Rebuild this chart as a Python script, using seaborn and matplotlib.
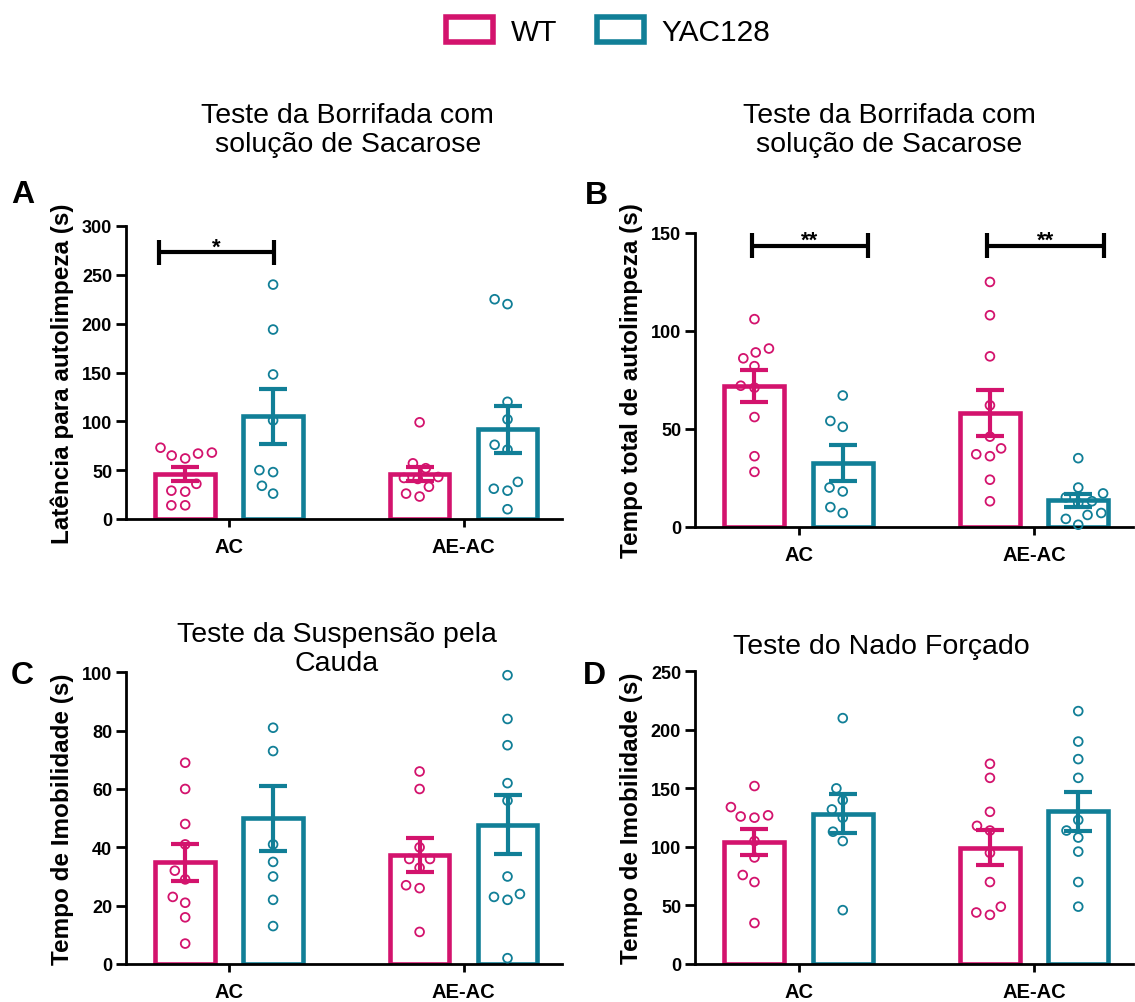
import numpy as np
import pandas as pd
import matplotlib
matplotlib.use("Agg")
import matplotlib.pyplot as plt
import seaborn as sns
from matplotlib.patches import Patch
from matplotlib.path import Path
from matplotlib.collections import PathCollection

sns.set_style("ticks")
plt.rcParams["font.family"] = ["Liberation Sans", "DejaVu Sans"]
for k in ("text.color", "axes.labelcolor", "xtick.color", "ytick.color", "axes.edgecolor"):
    plt.rcParams[k] = "black"

# ---------------- data ----------------
groups = ["AC", "AE-AC"]
genotypes = ["WT", "YAC128"]
colors = {"WT": "#D3136D", "YAC128": "#117F97"}

# Panel A - Latência para autolimpeza (s)
a_wt_ac = [73, 67, 62, 65, 68, 36, 29, 28, 14, 14]
a_yac_ac = [240, 194, 148, 101, 50, 48, 34, 26]
a_wt_aeac = [99, 57, 52, 43, 41, 42, 33, 26, 23]
a_yac_aeac = [225, 220, 120, 102, 76, 71, 38, 31, 29, 10]
a_wt_mean = [46, 46]
a_wt_sem = [7, 7.5]
a_yac_mean = [105, 92]
a_yac_sem = [28, 24]

# Panel B - Tempo total de autolimpeza (s)
b_wt_ac = [106, 91, 89, 86, 82, 72, 71, 56, 36, 28]
b_yac_ac = [67, 54, 51, 20, 18, 10, 7]
b_wt_aeac = [125, 108, 87, 62, 46, 40, 36, 37, 24, 13]
b_yac_aeac = [35, 20, 17, 15, 13, 12, 7, 6, 4, 1]
b_wt_mean = [71.8, 58]
b_wt_sem = [8, 11.8]
b_yac_mean = [32.5, 13.5]
b_yac_sem = [9, 3.4]

# Panel C - Tempo de Imobilidade (s), suspensão pela cauda
c_wt_ac = [69, 60, 48, 41, 32, 29, 23, 21, 16, 7]
c_yac_ac = [81, 73, 41, 35, 30, 22, 13]
c_wt_aeac = [66, 60, 40, 36, 36, 33, 27, 26, 11]
c_yac_aeac = [99, 84, 75, 62, 56, 30, 23, 22, 24, 2]
c_wt_mean = [34.9, 37.4]
c_wt_sem = [6.3, 5.7]
c_yac_mean = [49.9, 47.8]
c_yac_sem = [11, 10]

# Panel D - Tempo de Imobilidade (s), nado forçado
d_wt_ac = [152, 134, 127, 126, 125, 105, 91, 76, 70, 35]
d_yac_ac = [210, 150, 140, 132, 125, 113, 105, 46]
d_wt_aeac = [171, 159, 130, 118, 114, 95, 70, 49, 42, 44]
d_yac_aeac = [216, 190, 175, 159, 123, 114, 108, 96, 70, 49]
d_wt_mean = [104.5, 99.5]
d_wt_sem = [11, 15]
d_yac_mean = [128.5, 130.3]
d_yac_sem = [16.5, 17]

titles = ["Teste da Borrifada com\nsolução de Sacarose",
          "Teste da Borrifada com\nsolução de Sacarose",
          "Teste da Suspensão pela\nCauda",
          "Teste do Nado Forçado"]
ylabels = ["Latência para autolimpeza (s)",
           "Tempo total de autolimpeza (s)",
           "Tempo de Imobilidade (s)",
           "Tempo de Imobilidade (s)"]
letters = ["A", "B", "C", "D"]
yticks_list = [[0, 50, 100, 150, 200, 250, 300],
               [0, 50, 100, 150],
               [0, 20, 40, 60, 80, 100],
               [0, 50, 100, 150, 200, 250]]

# open-circle marker drawn smaller than its box, so the swarm keeps
# GraphPad-like spacing between neighbouring points
_circ = Path.unit_circle()
ring_marker = Path.make_compound_path(
    Path([[1.0, 1.0]], [Path.MOVETO]),
    Path([[-1.0, -1.0]], [Path.MOVETO]),
    Path(_circ.vertices * 0.77, _circ.codes),
)

# ---------------- figure ----------------
W, H = 1135, 1003
fig = plt.figure(figsize=(W / 100, H / 100), dpi=100)


def px_axes(left, right, top, bottom):
    return fig.add_axes([left / W, 1 - bottom / H, (right - left) / W, (bottom - top) / H])


axA = px_axes(126, 562, 227, 520)
axB = px_axes(695, 1133, 234, 527.7)
axC = px_axes(126, 562, 673.3, 965)
axD = px_axes(695, 1133, 672.3, 965)


def draw_panel(ax, wt_pts, yac_pts, wt_mean, wt_sem, yac_mean, yac_sem,
               yticks, ylabel):
    gpos = {g: i for i, g in enumerate(groups)}
    bar_df = pd.DataFrame({
        "gx": [gpos[g] for g in groups] * 2,
        "genotype": ["WT"] * 2 + ["YAC128"] * 2,
        "mean": wt_mean + yac_mean,
        "sem": wt_sem + yac_sem,
    })

    sns.barplot(data=bar_df, x="gx", y="mean", hue="genotype", native_scale=True,
                hue_order=genotypes, palette=colors,
                fill=False, width=0.75, gap=0.32, linewidth=3.3,
                errorbar=None, legend=False, ax=ax, zorder=2)

    centers = {}
    for cont, gen in zip(ax.containers, genotypes):
        sub = bar_df[bar_df.genotype == gen].sort_values("gx")
        xs = [b.get_x() + b.get_width() / 2 for b in cont]
        for g, x in zip(groups, xs):
            centers[(g, gen)] = x
        ax.errorbar(xs, sub["mean"].values, yerr=sub["sem"].values, fmt="none",
                    ecolor=colors[gen], elinewidth=3, capsize=10, capthick=3,
                    zorder=4, clip_on=False)

    rows = []
    for gen, pts_by_group in (("WT", wt_pts), ("YAC128", yac_pts)):
        for g, pts in zip(groups, pts_by_group):
            for v in pts:
                rows.append((centers[(g, gen)], gen, v))
    pts_df = pd.DataFrame(rows, columns=["xpos", "genotype", "value"])

    sns.swarmplot(data=pts_df, x="xpos", y="value", hue="genotype",
                  native_scale=True, hue_order=genotypes, palette=colors,
                  size=8.2, linewidth=1.3, marker=ring_marker, legend=False,
                  ax=ax, zorder=3)
    for coll in ax.collections:
        if isinstance(coll, PathCollection):
            fc = coll.get_facecolors()
            coll.set_edgecolors(fc)
            coll.set_facecolors("none")
            coll.set_clip_on(False)

    ax.set_xlim(-0.44, 1.42)
    ax.set_ylim(yticks[0], yticks[-1])
    ax.set_yticks(yticks)
    ax.set_xticks([gpos[g] for g in groups], groups)
    ax.set_xlabel("")
    ax.set_ylabel(ylabel, fontsize=17.5, fontweight="bold", labelpad=6)
    sns.despine(ax=ax)
    for s in ("left", "bottom"):
        ax.spines[s].set_linewidth(2)
    ax.tick_params(axis="y", length=7, width=2, pad=3, labelsize=13)
    ax.tick_params(axis="x", length=6, width=2, pad=7, labelsize=14.5)
    for lab in ax.get_xticklabels() + ax.get_yticklabels():
        lab.set_fontweight("bold")


def bracket(ax, xc, left_off, right_off, y, h, text):
    x0, x1 = xc + left_off, xc + right_off
    kw = dict(color="black", lw=3, clip_on=False, solid_capstyle="butt", zorder=5)
    ax.plot([x0, x1], [y, y], **kw)
    ax.plot([x0, x0], [y - h, y + h], **kw)
    ax.plot([x1, x1], [y - h, y + h], **kw)
    ax.text((x0 + x1) / 2, y, text, ha="center", va="baseline",
            fontsize=16, fontweight="bold")


draw_panel(axA, [a_wt_ac, a_wt_aeac], [a_yac_ac, a_yac_aeac],
           a_wt_mean, a_wt_sem, a_yac_mean, a_yac_sem, yticks_list[0], ylabels[0])
draw_panel(axB, [b_wt_ac, b_wt_aeac], [b_yac_ac, b_yac_aeac],
           b_wt_mean, b_wt_sem, b_yac_mean, b_yac_sem, yticks_list[1], ylabels[1])
draw_panel(axC, [c_wt_ac, c_wt_aeac], [c_yac_ac, c_yac_aeac],
           c_wt_mean, c_wt_sem, c_yac_mean, c_yac_sem, yticks_list[2], ylabels[2])
draw_panel(axD, [d_wt_ac, d_wt_aeac], [d_yac_ac, d_yac_aeac],
           d_wt_mean, d_wt_sem, d_yac_mean, d_yac_sem, yticks_list[3], ylabels[3])

# significance brackets
ticksA = axA.get_xticks()
bracket(axA, ticksA[0], -0.30, 0.19, 273, 12.5, "*")
ticksB = axB.get_xticks()
bracket(axB, ticksB[0], -0.20, 0.295, 143.5, 6.5, "**")
bracket(axB, ticksB[1], -0.20, 0.295, 143.5, 6.5, "**")

# titles
title_pos = [(axA, 0.509, 1.331), (axB, 0.443, 1.354), (axC, 0.484, 1.0816), (axD, 0.425, 1.0865)]
for (ax, tx, ty), t in zip(title_pos, titles):
    ax.text(tx, ty, t, transform=ax.transAxes, ha="center", va="center",
            fontsize=20.5, linespacing=1.15)

# panel letters
for (lx, ly), l in zip([(23, 195), (596, 196), (22, 676), (594, 676)], letters):
    fig.text(lx / W, 1 - ly / H, l, ha="center", va="center", fontsize=23,
             fontweight="bold")

# legend
handles = [Patch(facecolor="white", edgecolor=colors[g], linewidth=4, label=g)
           for g in genotypes]
fig.legend(handles=handles, loc="upper center", bbox_to_anchor=(0.536, 1.0),
           ncol=2, frameon=False, fontsize=21.5, handlelength=1.55,
           handleheight=0.9, handletextpad=0.6, columnspacing=1.35,
           borderaxespad=0.2)

fig.savefig("out.png", dpi=100)
